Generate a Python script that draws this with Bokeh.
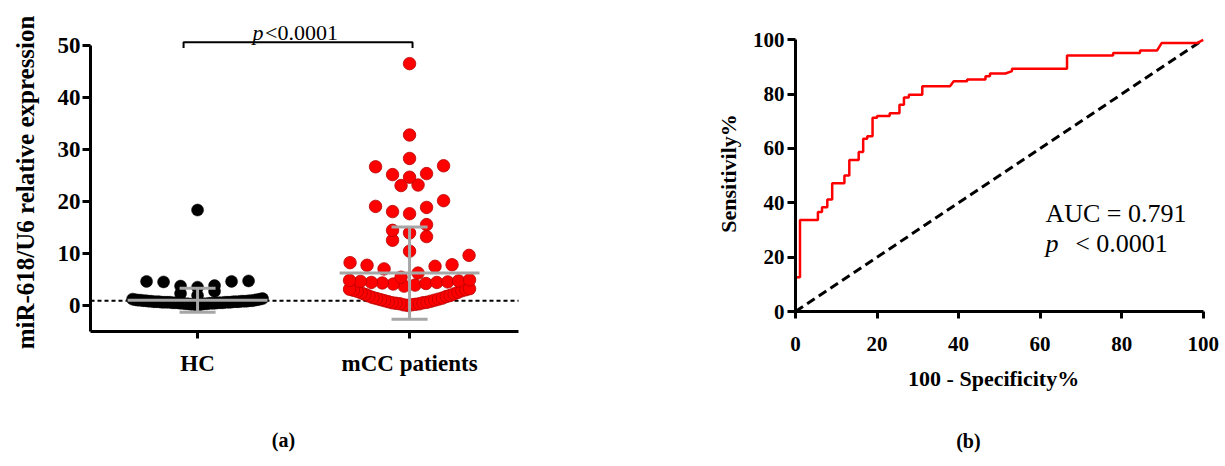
import numpy as np
from bokeh.plotting import figure
from bokeh.layouts import row
from bokeh.models import FixedTicker, Label, Range1d
from bokeh.embed import file_html
from bokeh.resources import INLINE

FONT = "Liberation Serif"

# ---------------- data: panel (a) ----------------
categories = ["HC", "mCC patients"]
hc_values = [
    0.2, 0.2, 0.3, 0.3, 0.3, 0.4, 0.4, 0.4, 0.4, 0.5, 0.5, 0.5, 0.5, 0.5,
    0.6, 0.6, 0.6, 0.6, 0.6, 0.6, 0.7, 0.7, 0.7, 0.7, 0.7, 0.7, 0.7,
    0.8, 0.8, 0.8, 0.8, 0.8, 0.8, 0.9, 0.9, 0.9, 0.9, 0.9, 1.0, 1.0, 1.0, 1.0,
    1.1, 1.1, 1.1, 1.2, 1.2, 1.3, 1.3, 1.4,
    2.0, 2.4, 2.8,
    3.6, 3.8, 3.9, 4.6, 4.7, 4.7, 4.8,
    18.4,
]
mcc_values = [
    0.1, 0.2, 0.2, 0.3, 0.4, 0.4, 0.5, 0.6, 0.6, 0.7, 0.8, 0.9, 1.0, 1.1, 1.2, 1.3,
    1.4, 1.5, 1.6, 1.8, 1.9, 2.0, 2.2, 2.3, 2.5, 2.6, 2.8, 2.9, 3.0, 3.1, 3.2, 3.3,
    3.8, 4.0, 4.2, 4.3, 4.4, 4.5, 4.5, 4.6, 4.7, 4.8, 4.9, 5.0, 5.5, 6.3,
    7.1, 7.6, 7.8, 7.9, 8.3, 9.7,
    10.5, 12.6, 13.3,
    14.0, 14.5, 15.6, 17.7,
    18.1, 18.9, 19.1, 20.2,
    23.1, 23.2,
    24.7, 25.2, 25.4, 26.7, 26.9,
    28.3, 32.8, 46.5,
]
group_means = [1.1, 6.3]
group_sds = [2.3, 8.85]
cutoff = 1.0
expr_ticks = [0, 10, 20, 30, 40, 50]
expr_label = "miR-618/U6 relative expression"
p_a_text = "<0.0001"

# ---------------- data: panel (b) ----------------
roc_fpr = [0, 0, 1.1, 1.1, 5.5, 5.5, 6.5, 6.5, 7.8, 7.8, 9.0, 9.0, 12.0, 12.0,
           13.2, 13.2, 15.5, 15.5, 16.6, 16.6, 17.6, 17.6, 18.9, 18.9, 20.0, 20.0,
           23.1, 23.1, 25.5, 25.5, 26.6, 26.6, 27.8, 27.8, 31.1, 31.1, 37.9, 38.8,
           42.1, 42.1, 46.6, 46.6, 47.7, 47.7, 51.5, 53.1, 53.1, 66.6, 66.6, 77.9,
           77.9, 84.5, 84.5, 88.7, 89.8, 98.5, 100]
roc_tpr = [0, 12.6, 12.6, 33.7, 33.7, 36.6, 36.6, 38.4, 38.4, 41.2, 41.2, 47.2, 47.2, 50.1,
           50.1, 55.8, 55.8, 58.7, 58.7, 63.6, 63.6, 64.5, 64.5, 71.3, 71.3, 72.0,
           72.0, 73.0, 73.0, 76.1, 76.1, 78.8, 78.8, 79.8, 79.8, 82.9, 82.9, 84.7,
           84.7, 85.4, 85.4, 86.6, 86.6, 87.6, 87.6, 88.5, 89.3, 89.3, 94.2, 94.2,
           95.1, 95.1, 96.1, 96.1, 98.8, 98.8, 100]
chance_line = [0, 100]
roc_ticks = [0, 20, 40, 60, 80, 100]
roc_xlabel = "100 - Specificity%"
roc_ylabel = "Sensitivily%"
auc_text = "AUC = 0.791"
p_b_text = "< 0.0001"

# ---------------- layout: frames fill each figure; axes pinned inside ----------------
W1, W2, H = 608, 617, 460
A_XB = (-0.505, 1.514)          # x axis extent
A_YB = (-4.91, 50)              # y axis extent
A_PX, A_PY = 212.0, 5.21        # px per unit
A_ORIG = (90, 305.4)            # page px of (x=-0.505, y=0)
AX = (A_XB[0] - A_ORIG[0] / A_PX, A_XB[0] + (W1 - A_ORIG[0]) / A_PX)
AY = (-(H - A_ORIG[1]) / A_PY, A_ORIG[1] / A_PY)
B_PX, B_PY = 4.077, 2.717
B_ORIG = (795 - W1, 311)        # px of (0, 0) inside figure
BX = (-B_ORIG[0] / B_PX, (W2 - B_ORIG[0]) / B_PX)
BY = (-(H - B_ORIG[1]) / B_PY, B_ORIG[1] / B_PY)

# row boundaries used by the dot-plot layout (GraphPad-like rows)
HC_ROWS = [-1, 1.5, 3.3, 5.1, 100]
MCC_ROWS = [-1, 3.5, 5.2, 9.8, 13.5, 16, 20.5, 24, 27.5, 30, 40, 100]


def swarm(values, edges, spacing_px, half_w_px, px_per_x):
    """Rows of points: each row centred, lowest value in the centre, spreading outwards."""
    vals = np.asarray(values, float)
    off = np.zeros(len(vals))
    bins = np.digitize(vals, edges)
    for b in np.unique(bins):
        idx = np.where(bins == b)[0]
        idx = idx[np.argsort(vals[idx], kind="stable")]
        n = len(idx)
        s = spacing_px if n < 2 else min(spacing_px, 2 * half_w_px / (n - 1))
        slots = (np.arange(n) - (n - 1) / 2) * s
        order = sorted(range(n), key=lambda k: (round(abs(slots[k]), 6), slots[k]))
        for j, k in enumerate(order):
            off[idx[j]] = slots[k] / px_per_x
    return off


def make_fig(w, xr, yr):
    p = figure(width=w, height=H, output_backend="svg", toolbar_location=None,
               x_range=Range1d(*xr), y_range=Range1d(*yr),
               min_border_left=0, min_border_right=0,
               min_border_top=0, min_border_bottom=0)
    p.xgrid.visible = False
    p.ygrid.visible = False
    p.outline_line_color = None
    return p


def style_axes(p, size):
    for ax in (p.xaxis, p.yaxis):
        ax.axis_line_width = 3
        ax.axis_line_color = "black"
        ax.major_tick_line_width = 3
        ax.major_tick_line_color = "black"
        ax.major_tick_in = 0
        ax.minor_tick_in = 0
        ax.minor_tick_out = 0
        ax.major_label_text_font = FONT
        ax.major_label_text_font_style = "bold"
        ax.major_label_text_font_size = size
        ax.major_label_text_color = "black"


def label(p, x, y, text, size, style="normal", align="left", baseline="alphabetic", angle=0):
    p.add_layout(Label(x=x, y=y, text=text, text_font=FONT, text_font_style=style,
                       text_font_size=size, text_color="black", angle=angle,
                       text_baseline=baseline, text_align=align))


# ---------------- panel (a) ----------------
p1 = make_fig(W1, AX, AY)
style_axes(p1, "23px")
p1.xaxis.fixed_location = A_YB[0]
p1.yaxis.fixed_location = A_XB[0]
p1.xaxis.bounds = A_XB
p1.yaxis.bounds = A_YB
p1.xaxis.ticker = FixedTicker(ticks=list(range(len(categories))))
p1.xaxis.major_label_overrides = {i: c for i, c in enumerate(categories)}
p1.xaxis.major_tick_out = 7
p1.xaxis.major_label_standoff = 13
p1.yaxis.ticker = FixedTicker(ticks=expr_ticks)
p1.yaxis.major_tick_out = 8
p1.yaxis.major_label_standoff = 2

p1.line(x=list(A_XB), y=[cutoff, cutoff], line_color="black", line_width=2, line_dash="4 3")

hc_x = 0 + swarm(hc_values, HC_ROWS, 17, 65, A_PX)
mcc_x = 1 + swarm(mcc_values, MCC_ROWS, 17, 60, A_PX)
p1.scatter(x=hc_x, y=hc_values, size=12, marker="circle",
           fill_color="black", line_color="black", line_width=0.5)
p1.scatter(x=mcc_x, y=mcc_values, size=12.5, marker="circle",
           fill_color="#ff0000", line_color="#b80000", line_width=0.8)

gray = "#a6a6a6"
cx = np.arange(len(categories))
m = np.array(group_means)
sd = np.array(group_sds)
p1.segment(x0=cx - 0.33, x1=cx + 0.33, y0=m, y1=m, line_color=gray, line_width=3)
p1.segment(x0=cx, x1=cx, y0=m - sd, y1=m + sd, line_color=gray, line_width=3)
p1.segment(x0=cx - 0.085, x1=cx + 0.085, y0=m + sd, y1=m + sd, line_color=gray, line_width=3)
p1.segment(x0=cx - 0.085, x1=cx + 0.085, y0=m - sd, y1=m - sd, line_color=gray, line_width=3)

bx0, bx1 = cx[0] - 0.066, cx[1] + 0.014
p1.line(x=[bx0, bx0, bx1, bx1], y=[49.5, 50.6, 50.6, 49.5], line_color="black", line_width=2)
label(p1, 0.259, 52.5, "p", "22px", "italic")
label(p1, 0.318, 52.5, p_a_text, "22px")
label(p1, -0.812, 23.7, expr_label, "25px", "bold", "center", "middle", np.pi / 2)
label(p1, 0.405, -25.8, "(a)", "20px", "bold", "center", "middle")

# ---------------- panel (b) ----------------
p2 = make_fig(W2, BX, BY)
style_axes(p2, "21px")
p2.xaxis.fixed_location = 0
p2.yaxis.fixed_location = 0
p2.xaxis.bounds = (0, 100)
p2.yaxis.bounds = (0, 100)
p2.xaxis.ticker = FixedTicker(ticks=roc_ticks)
p2.yaxis.ticker = FixedTicker(ticks=roc_ticks)
p2.xaxis.major_tick_out = 7
p2.yaxis.major_tick_out = 8
p2.xaxis.major_label_standoff = 18
p2.yaxis.major_label_standoff = 3

p2.line(x=chance_line, y=chance_line, line_color="black", line_width=3, line_dash="9 5")
p2.line(x=roc_fpr, y=roc_tpr, line_color="#ff0000", line_width=2.5)

label(p2, 61.3, 36.1, auc_text, "26px")
label(p2, 61.3, 25.0, "p", "26px", "italic")
label(p2, 68.6, 25.0, p_b_text, "26px")
label(p2, 48.6, -24.7, roc_xlabel, "22px", "bold", "center", "middle")
label(p2, -16.4, 50.8, roc_ylabel, "22px", "bold", "center", "middle", np.pi / 2)
label(p2, 42.4, -47.5, "(b)", "20px", "bold", "center", "middle")

layout = row(p1, p2)
open("out.html", "w").write(file_html(layout, INLINE))
